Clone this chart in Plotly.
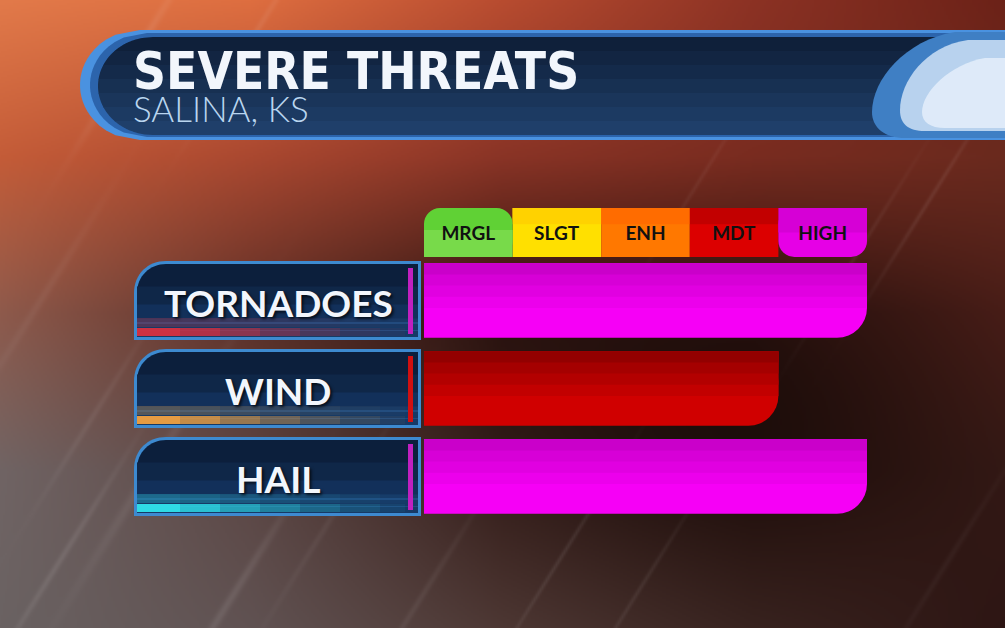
import numpy as np, zlib, struct, base64
import plotly.graph_objects as go

# ---------------- data ----------------
categories = ["TORNADOES", "WIND", "HAIL"]
risk_values = [5, 4, 5]          # 1=MRGL ... 5=HIGH
levels = ["MRGL", "SLGT", "ENH", "MDT", "HIGH"]
title_text = "SEVERE THREATS"
subtitle_text = "SALINA, KS"

# ---------------- style ----------------
W, H = 1005, 628
header_colors = ["#78da4a", "#ffe000", "#ff7800", "#dc0000", "#e600e6"]
header_top = ["#48c820", "#ffc800", "#ff6400", "#b00000", "#cc00cc"]
bar_top = {1: "#3aa818", 2: "#e0b000", 3: "#e05000", 4: "#880000", 5: "#c200c2"}
bar_bot = {1: "#8ee060", 2: "#ffe800", 3: "#ff8000", 4: "#d00000", 5: "#f600f6"}
accent = {1: "#5ac030", 2: "#e0c000", 3: "#ff7000", 4: "#d01010", 5: "#c020c0"}
streak_colors = ["#d83040", "#f0a040", "#30e4ec"]

BG_GRID = [
    ["#e27a4a", "#de6e40", "#b84c30", "#8c3224", "#6c2218"],
    ["#c45c38", "#aa4830", "#8a3426", "#7a2c20", "#6a2a1e"],
    ["#8e5a4c", "#5e3028", "#2e1410", "#2e1410", "#4a1e18"],
    ["#706464", "#5c4644", "#3a201c", "#2c1410", "#361a16"],
    ["#6a6262", "#605252", "#4e3834", "#3a2420", "#2e1614"],
]


def hex2rgb(h):
    h = h.lstrip('#')
    return [int(h[i:i + 2], 16) for i in (0, 2, 4)]


def mix(c1, c2, t):
    a, b = hex2rgb(c1), hex2rgb(c2)
    return "#%02x%02x%02x" % tuple(int(round(a[i] + (b[i] - a[i]) * t)) for i in range(3))


# ---------------- background image ----------------
def make_bg():
    grid = np.array([[hex2rgb(c) for c in row] for row in BG_GRID], float)
    bw, bh = 503, 314
    xs = np.linspace(0, 4, bw)
    ys = np.linspace(0, 4, bh)
    x0 = np.clip(np.floor(xs).astype(int), 0, 3); fx = (xs - x0)[None, :, None]
    y0 = np.clip(np.floor(ys).astype(int), 0, 3); fy = (ys - y0)[:, None, None]
    g00 = grid[y0][:, x0]; g01 = grid[y0][:, x0 + 1]
    g10 = grid[y0 + 1][:, x0]; g11 = grid[y0 + 1][:, x0 + 1]
    img = g00 * (1 - fy) * (1 - fx) + g01 * (1 - fy) * fx + g10 * fy * (1 - fx) + g11 * fy * fx
    X = np.linspace(0, W, bw)[None, :]
    Y = np.linspace(0, H, bh)[:, None]
    sh = np.exp(-(((X - 720) / 230) ** 2 + ((Y - 420) / 140) ** 2))
    img *= (1 - 0.35 * sh)[:, :, None]
    a = np.deg2rad(58)
    streaks = [(60, 560, 3, 0.09, 120), (150, 470, 5, 0.07, 150), (230, 600, 4, 0.09, 120),
               (420, 600, 3, 0.06, 110), (560, 560, 2, 0.08, 120), (640, 590, 2, 0.07, 100),
               (130, 60, 4, 0.09, 100), (250, 40, 3, 0.07, 100), (930, 200, 2, 0.08, 110),
               (860, 250, 2, 0.06, 110), (950, 560, 3, 0.04, 120), (40, 300, 4, 0.05, 120),
               (330, 520, 3, 0.05, 120), (90, 420, 3, 0.06, 100), (700, 180, 2, 0.05, 100)]
    for (sx, sy, sw, sa, sl) in streaks:
        d = (X - sx) * np.sin(a) + (Y - sy) * np.cos(a)
        t = (X - sx) * np.cos(a) - (Y - sy) * np.sin(a)
        g = np.exp(-(d / sw) ** 2) * np.exp(-(t / sl) ** 2) * sa
        img = img + (255 - img) * g[:, :, None]
    img = np.clip(img, 0, 255).astype(np.uint8)
    raw = b''.join(b'\x00' + img[r].tobytes() for r in range(bh))

    def chunk(tag, data):
        c = struct.pack('>I', len(data)) + tag + data
        return c + struct.pack('>I', zlib.crc32(tag + data) & 0xffffffff)
    png = b'\x89PNG\r\n\x1a\n' + chunk(b'IHDR', struct.pack('>IIBBBBB', bw, bh, 8, 2, 0, 0, 0)) \
        + chunk(b'IDAT', zlib.compress(raw, 9)) + chunk(b'IEND', b'')
    return 'data:image/png;base64,' + base64.b64encode(png).decode()


# ---------------- shape helpers (pixel -> paper) ----------------
shapes = []


def P(x, y):
    return f"{x / W:.5f},{1 - y / H:.5f}"


def mkpath(cmds):
    out = []
    for c in cmds:
        op, nums = c[0], c[1:]
        pts = [P(nums[i], nums[i + 1]) for i in range(0, len(nums), 2)]
        out.append(op + ' ' + ' '.join(pts))
    return ' '.join(out)


def add_path(cmds, color, opacity=1.0):
    shapes.append(dict(type='path', path=mkpath(cmds), xref='paper', yref='paper',
                       fillcolor=color, line=dict(width=0), opacity=opacity, layer='below'))


def add_rect(x0, y0, x1, y1, color, opacity=1.0):
    shapes.append(dict(type='rect', x0=x0 / W, x1=x1 / W, y0=1 - y1 / H, y1=1 - y0 / H,
                       xref='paper', yref='paper', fillcolor=color, line=dict(width=0),
                       opacity=opacity, layer='below'))


def stadium_band(cx, cy, rx, ry, ya, yb, color, xr=1012, n=24):
    ysamp = np.linspace(ya, yb, n)
    pts = []
    for y in ysamp:
        v = (y - cy) / ry
        x = cx - rx * np.sqrt(max(0.0, 1 - v * v))
        pts.append(('L', x, y))
    cmds = [('M', xr, ya)] + pts + [('L', xr, yb), ('Z',)]
    add_path(cmds, color)


# ---- title banner ----
stadium_band(140, 85, 60, 55, 30, 140, "#4a92e0")
stadium_band(147, 85, 57, 52, 33, 137, "#2c64ac")
nb = 7
edges = np.linspace(37, 135, nb + 1)
for k in range(nb):
    stadium_band(153, 86, 55, 49, edges[k], edges[k + 1] + (0.6 if k < nb - 1 else 0),
                 mix("#0f203a", "#1f3f6a", k / (nb - 1)))
add_path([('M', 1012, 32), ('L', 955, 32), ('C', 905, 40, 872, 80, 872, 112),
          ('C', 872, 128, 885, 138, 905, 138), ('L', 1012, 138), ('Z',)], "#3f7fc4")
add_path([('M', 1012, 40), ('L', 968, 40), ('C', 925, 46, 900, 82, 900, 110),
          ('C', 900, 124, 908, 131, 925, 131), ('L', 1012, 131), ('Z',)], "#b8d2ee")
add_path([('M', 1012, 58), ('L', 985, 58), ('C', 950, 64, 922, 92, 922, 112),
          ('C', 922, 122, 930, 128, 945, 128), ('L', 1012, 128), ('Z',)], "#e4eefa", 0.85)

# ---- category label boxes ----
ROW0, ROWSTEP, HALF = 300.5, 88.0, 39.5
for i, cat in enumerate(categories):
    c = ROW0 + ROWSTEP * i
    top, bot = c - HALF, c + HALF
    add_path([('M', 134, bot), ('L', 134, top + 32), ('C', 134, top + 13, 148, top, 166, top),
              ('L', 421, top), ('L', 421, bot), ('Z',)], "#3d8ad0")
    add_path([('M', 137, bot - 3), ('L', 137, top + 32), ('C', 137, top + 15, 150, top + 3, 166, top + 3),
              ('L', 418, top + 3), ('L', 418, bot - 3), ('Z',)], "#0c1f3c")
    add_rect(137, c - 14, 418, bot - 3, "#0f2748")
    add_rect(137, c + 4, 418, bot - 3, "#12305a")
    add_rect(137, c + 18, 418, bot - 3, "#163a66")
    add_rect(137, bot - 18, 418, bot - 16, "#2a64a0", 0.45)
    add_rect(137, bot - 10, 418, bot - 9, "#2a64a0", 0.45)
    sc = streak_colors[i]
    segs = [(137, 180, 0.95), (180, 220, 0.8), (220, 260, 0.6), (260, 300, 0.42),
            (300, 340, 0.26), (340, 380, 0.14), (380, 405, 0.06)]
    for (xa, xb, op) in segs:
        add_rect(xa, bot - 12, xb, bot - 4, sc, op)
        add_rect(xa, bot - 22, xb, bot - 13, sc, op * 0.3)
    add_rect(408, top + 7, 413, bot - 6, accent[risk_values[i]])

# ---------------- traces ----------------
fig = go.Figure()
BW = 74.5 / ROWSTEP
fig.add_trace(go.Bar(y=categories, x=risk_values, orientation='h', width=BW, offset=-BW / 2,
                     marker=dict(color=[bar_bot[v] for v in risk_values], cornerradius=30, line=dict(width=0)),
                     hoverinfo='skip', showlegend=False))
for f, t in [(0.6, 0.8), (0.45, 0.6), (0.3, 0.4), (0.15, 0.15)]:
    fig.add_trace(go.Bar(y=categories, x=risk_values, orientation='h', width=BW * f, offset=-BW / 2,
                         marker=dict(color=[mix(bar_top[v], bar_bot[v], t) for v in risk_values],
                                     line=dict(width=0)),
                         hoverinfo='skip', showlegend=False))

n = len(levels)
mid = list(range(1, n - 1))
fig.add_trace(go.Bar(y=[0] * len(mid), x=[1] * len(mid), base=mid, orientation='h', width=1,
                     marker=dict(color=[header_colors[k] for k in mid], line=dict(width=0)),
                     yaxis='y2', hoverinfo='skip', showlegend=False))
fig.add_trace(go.Bar(y=[0] * len(mid), x=[1] * len(mid), base=mid, orientation='h', width=0.33, offset=0.17,
                     marker=dict(color=[mix(header_top[k], header_colors[k], 0.4) for k in mid], line=dict(width=0)),
                     yaxis='y2', hoverinfo='skip', showlegend=False))
fig.add_trace(go.Bar(y=[0], x=[-1], base=[1], orientation='h', width=1,
                     marker=dict(color=mix(header_top[0], header_colors[0], 0.5), cornerradius=16, line=dict(width=0)),
                     yaxis='y2', hoverinfo='skip', showlegend=False))
fig.add_trace(go.Bar(y=[0], x=[-1], base=[1], orientation='h', width=0.55, offset=-0.5,
                     marker=dict(color=header_colors[0], line=dict(width=0)),
                     yaxis='y2', hoverinfo='skip', showlegend=False))
fig.add_trace(go.Bar(y=[0], x=[1], base=[n - 1], orientation='h', width=1,
                     marker=dict(color=header_colors[-1], cornerradius=16, line=dict(width=0)),
                     yaxis='y2', hoverinfo='skip', showlegend=False))
fig.add_trace(go.Bar(y=[0], x=[1], base=[n - 1], orientation='h', width=0.5, offset=0,
                     marker=dict(color=mix(header_top[-1], header_colors[-1], 0.4), line=dict(width=0)),
                     yaxis='y2', hoverinfo='skip', showlegend=False))
fig.add_trace(go.Bar(y=[0] * n, x=[1] * n, base=list(range(n)), orientation='h', width=1,
                     text=levels, textposition='inside', insidetextanchor='middle', textangle=0,
                     textfont=dict(family="Lato, 'Open Sans', sans-serif", size=19, color="#111111", weight="bold"),
                     marker=dict(color='rgba(0,0,0,0)', line=dict(width=0)),
                     yaxis='y2', hoverinfo='skip', showlegend=False))

# ---------------- annotations ----------------
ann = []
title_html = (f"<span style=\"font-size:51px;font-weight:bold;font-family:'DejaVu Sans Condensed',sans-serif;"
              f"color:#f2f6fc\">{title_text}</span><br>"
              f"<span style=\"font-size:35px;font-weight:300;font-family:Lato,sans-serif;color:#b9d5ef\">"
              f"{subtitle_text}</span>")
ann.append(dict(text=title_html, x=131 / W, y=1 - 86 / H, xref='paper', yref='paper',
                xanchor='left', yanchor='middle', align='left', showarrow=False,
                font=dict(family="'DejaVu Sans Condensed', sans-serif", size=25, color="#f2f6fc")))
for i, cat in enumerate(categories):
    c = ROW0 + ROWSTEP * i
    ann.append(dict(text=cat, x=278 / W, y=1 - (c + 2) / H, xref='paper', yref='paper',
                    xanchor='center', yanchor='middle', showarrow=False,
                    font=dict(family="Lato, 'Open Sans', sans-serif", size=37, color="#f2f6fc",
                              weight="bold", shadow="2px 2px 3px rgba(0,0,0,0.7)")))

# ---------------- layout ----------------
y_bot = ROW0 + ROWSTEP * 2.5
y_top = ROW0 - ROWSTEP * 0.5
fig.update_layout(
    width=W, height=H, margin=dict(l=0, r=0, t=0, b=0),
    paper_bgcolor="#5a2a20", plot_bgcolor='rgba(0,0,0,0)',
    barmode='overlay', showlegend=False,
    xaxis=dict(domain=[424 / W, 867 / W], range=[0, len(levels)], visible=False, fixedrange=True),
    yaxis=dict(domain=[1 - y_bot / H, 1 - y_top / H], type='category', categoryarray=categories,
               range=[len(categories) - 0.5, -0.5], visible=False, fixedrange=True),
    yaxis2=dict(domain=[1 - 257 / H, 1 - 208 / H], range=[-0.5, 0.5], anchor='x', visible=False,
                fixedrange=True),
    shapes=shapes, annotations=ann,
    images=[dict(source=make_bg(), xref='paper', yref='paper', x=0, y=1, sizex=1, sizey=1,
                 sizing='stretch', layer='below', xanchor='left', yanchor='top')],
)
fig.write_html("out.html", config=dict(displayModeBar=False),
               post_script="document.body.style.margin='0';document.body.style.overflow='hidden';")
